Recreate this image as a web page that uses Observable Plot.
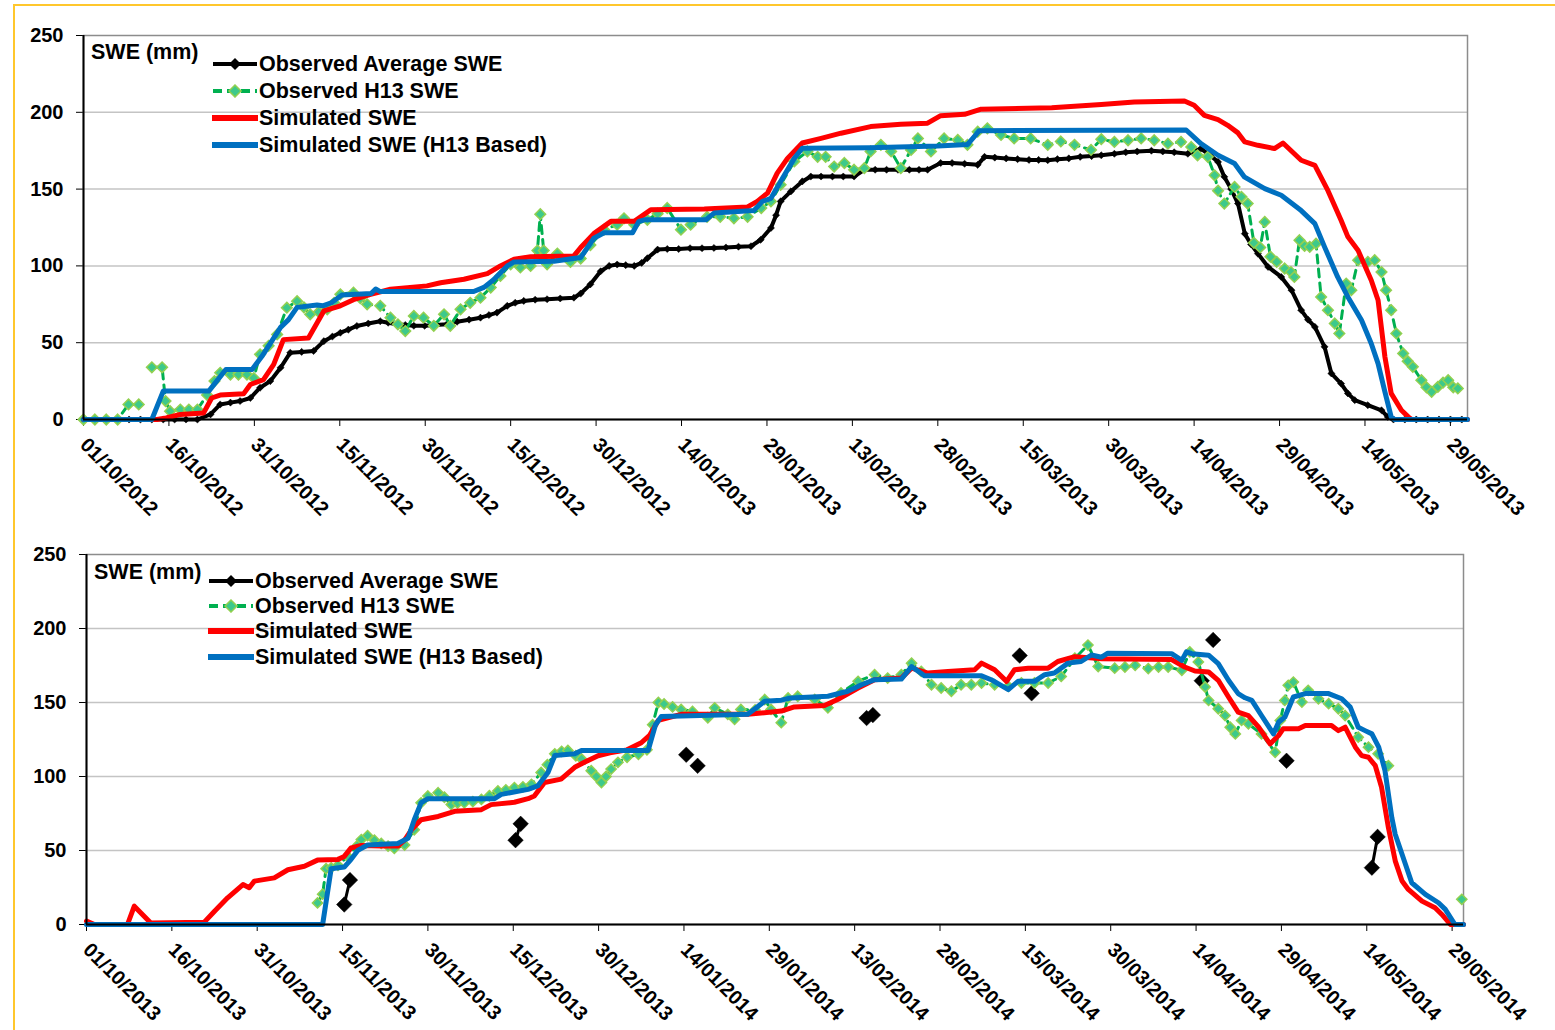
<!DOCTYPE html>
<html><head><meta charset="utf-8">
<script src="https://cdn.jsdelivr.net/npm/d3@7"></script>
<script src="https://cdn.jsdelivr.net/npm/@observablehq/plot@0.6"></script>
<style>
body{margin:0;background:#fff;width:1555px;height:1030px;overflow:hidden;font-family:"Liberation Sans",Arial,sans-serif;position:relative;}
#frame{position:absolute;left:13px;top:4px;width:1560px;height:1040px;border-top:2px solid #FFC72C;border-left:2px solid #FFC72C;}
.panel{position:absolute;left:0;}
.lab{position:absolute;font-weight:bold;font-size:21.5px;color:#000;white-space:nowrap;line-height:24px;}
.sw{position:absolute;}
</style></head><body>
<div id="frame"></div>
<div id="top" class="panel" style="top:0px"></div>
<div id="bot" class="panel" style="top:520px"></div>
<script>
// ---------------- DATA ----------------
const seriesNames = ["Observed Average SWE", "Observed H13 SWE", "Simulated SWE", "Simulated SWE (H13 Based)"];
const yTicks = [0, 50, 100, 150, 200, 250];
const tickDays = [0,15,30,45,60,75,90,105,120,135,150,165,180,195,210,225,240];
const topSeasonStart = "2012-10-01";
const botSeasonStart = "2013-10-01";
const topSeasonDays = 243;
const botSeasonDays = 242;

// ---- Season 2012/13 (day offset from 01/10/2012) ----
const topBlackDays = [0,2,4,6,8,10,12,14,16,18,20,22.3,24,25.8,27.5,29.3,31,32.8,34.6,36.3,38.3,40.4,42.2,43.7,45.1,46.5,48,50,52.1,53.5,55,56.5,58,59.9,61.8,63.8,65.6,67.7,69.7,71.2,72.6,74.4,75.8,77.3,79.3,81.4,83.7,86.1,87.3,89,90.8,92.3,93.7,95.2,96.7,98,99,100.8,102.5,104.5,106.5,108.6,110.7,112.8,115,117.2,118.9,120.7,121.6,122.4,124.2,126.2,127.7,129.5,131.5,133.4,135.3,137.1,139,141,143,145,146.7,148.2,150.5,152.5,154.7,157,158.2,160,162,164,166,167.7,169.3,171,173,175,177,178.7,181,183,185,187.5,189.5,191.5,193.9,196.2,197.8,199.2,200.3,201.5,202.7,203.9,205,206.2,208,210.3,212.1,213.8,215,216.2,217.9,219.1,220.8,222,223.2,225.5,227.9,229,230,232,234,236,238,240,242];
const topBlackSWE = [0,0,0,0,0,0,0,0,0,0,0,3.3,9.8,11,12,14,20.7,25,33.7,43.5,44,44.6,51,54,56.5,58.5,60.9,62.5,64,63,62,61.5,61,61,61.5,62,63.7,65,66.3,68,69.6,74,76,77.2,78,78.3,78.8,79.3,82,88,96.5,100,100.9,100.5,100,102,105,110.6,111,111,111.5,111.5,111.7,112,112.5,112.8,117,124.7,133,142,148.5,155,158.2,158.2,158.2,158.2,158.2,162.6,162.6,162.6,162.6,162.6,162.6,162.6,167,167,166.5,165.8,171,170.5,170,169.5,169,169,168.8,169.5,170,171,171.5,172,173,174,174.5,175,174.5,174,173,176.4,172,167.7,158,150,140.6,121,114,108,99.3,92.8,84.2,71.2,65,60.3,47.3,30,23.4,17,12.6,9.3,6,1.7,0,0,0,0,0,0,0];

const topGreenDays = [0,2,4,6,7.9,9.7,11,12,13.8,14.4,15.2,17,18.5,20,21.7,23,24,25.8,27.2,28.7,29.9,31,32.5,34,35.7,37.5,38.7,39.8,41.3,42.8,44,45.1,47.4,48.6,49.8,52.1,53.9,55.2,56.5,58,59.7,61.5,63.3,64.4,66.2,67.9,69.7,71.5,73.2,75,76.7,78.5,79.7,80.2,80.8,81.4,83.2,85.5,87.3,89,91.4,93.7,94.9,96.7,99,100.8,102.5,104.9,106.6,109.5,111.8,114.2,116.6,119,120.7,122.4,124.8,127.1,128.9,130.3,131.8,133.6,135.3,137.1,138.2,140,141.8,143.5,145.3,146.5,148.8,151.1,153.5,155.2,157,158.7,161.1,163.4,166.3,169.3,171.6,174,176.9,178.7,181,183.4,185.7,188,190.4,192.7,194.5,195.6,197.4,198.6,199.2,200.3,202.1,203.3,204.4,205.5,206.6,207.4,208.4,209.5,210.9,212,212.6,213.5,214.4,215.3,216.4,217.3,218.5,219.7,220.5,221.7,222.6,223.8,225.5,226.7,227.9,228.7,229.6,230.5,231.7,232.5,233.4,234.9,235.8,236.7,237.8,238.7,239.6,240.5,241.3];
const topGreenSWE = [0,0,0,0,9.8,9.8,null,34,34,12,5.4,6.5,6.5,6.5,16,25,30.4,29.3,29.3,29.3,27,42.4,48,55.4,72.8,77,73,68.5,70,71.7,76,81.5,82.6,79,75,74,66.3,62,57.6,67.4,66.3,61,68.5,61,71.7,76,79.3,85.9,93.5,101,99,100,110,133.7,110,101,108,102.6,104.8,113.6,123.6,126.8,131,126.8,130,134,137.7,123.6,126.8,132,132,131,132,137.7,142,152.8,168,174.5,171,171,164.7,167,162.6,163.6,174.5,178.8,174.5,163.6,175.5,183,174.5,183,182,178.8,187.4,189.6,185.3,183,183,178.8,181,178.8,175.5,182.5,180.7,181.8,183,181.8,179.6,180.7,177.4,172,171,159,149,140.6,151.4,145,140.6,115,112,128.6,106,102.6,98.3,96,92.8,116.7,113,112.4,114.5,79.8,71.2,62.5,56,88.5,84.2,103.7,102.6,103.7,96,84.2,71.2,56,43,38,34.3,25.6,21,18,21.3,24,25.6,21,20.2];

const topRedDays = [0,12.9,14.5,17,21.1,22.5,24,28.1,29.3,31.6,33.4,35.1,39.5,42.2,45.1,47.4,50.4,53.9,60.3,62.7,66.8,70.9,73.2,75.6,78.5,86.1,87.3,89.6,92.6,96.7,99.6,109,116.6,118.3,120.1,121.8,123.6,126.2,129.5,133,138.2,143.5,148.2,150.5,154.7,157.6,170,178.7,184.5,193.3,195,196.8,199.2,200.9,202.7,203.9,206.2,209.1,210.6,213.8,216.2,218.5,220.8,222,223.8,226.1,227.3,228.5,229.6,231.4,232.6,233.2,243];
const topRedSWE = [0,0,1,3.3,4.3,14,15.9,16.7,22.8,26,35.9,52,53,70.7,74,78,81.5,84.8,87,89,91.3,95,100,104.3,105.9,106.5,112,121,129,129,136.6,137,138.4,142,147.4,160.4,170,180,183,186.4,190.7,192.2,192.9,197.8,198.7,202,203,205,206.7,207.4,204.6,198,195.2,191.5,186.6,180.7,178.5,176.4,180,168.8,165.5,149,129.7,118.9,110,90.7,77.6,40.8,17,6,1.7,0,0];

const topBlueDays = [0,12,14,22,25,29.6,31.3,34.6,36,37.5,41,42,43.5,45.4,50.5,51.3,52.1,68.5,70.3,72,74.4,75.6,82.6,87.3,89.6,91.4,96.4,97.5,98.5,109.3,110.7,117.7,119.2,120.7,122.4,124.8,126.2,138,150,155.2,157.3,193.6,196.2,199.2,202.1,203.8,207.4,210.3,213.8,216.2,217.9,220.2,222,224.4,226.1,227.3,228.5,229.6,230.2,243];
const topBlueSWE = [0,0,18.5,18.5,32.6,32.6,41,60,65,73,74.5,74,76,81,82,85,83.3,83.3,86,91,100,102.6,103,105.5,118,121.6,121.6,129,130,130,134.4,136,142,144,155,170,176.6,177,178,179,188,188.5,179.6,172,166.6,158,150.3,146,136,127.5,112.4,92.8,79.8,64.6,49.5,36.4,18,1.7,0,0];

// ---- Season 2013/14 (day offset from 01/10/2013) ----
const botBlackDays = [45.3,46.3,75.4,76.3,105.4,107.4,137.1,138.2,164,166.1,196,198,210.9,225.9,226.9];
const botBlackSWE = [13.5,30,57,68,114.7,107.2,139.5,141.5,181.7,156.2,164.7,192.3,110.6,38.4,59.2];

const botGreenDays = [40.6,41.5,42.1,43,44.2,45.9,47.7,48.3,49.4,50.6,51.8,53,54.1,55.9,57.6,58.8,60,61.8,62.9,64.1,65.2,66.4,67.9,69.4,70.8,72.3,73.7,75.2,76.7,78.2,79.9,81,82.3,83.5,84.6,86,87,88.7,89.6,90.5,91.3,92.2,93.4,95,97,98.5,99.5,100.5,101.5,103,104.5,106.5,109.2,110.4,112.7,113.9,115,117.5,119.2,120.3,122.1,123.3,125,128,130.3,132.6,135.6,138.5,140.8,143.2,145,146.7,148.5,150.2,152,153.7,155.5,157.3,159.6,162,164.3,166.6,169,171.3,173.7,176,177.8,180.7,182.5,184.3,186.6,188.4,190.1,192.5,193.9,195.4,196.6,197.2,198.9,200.1,201,201.9,203,204.2,206.5,208.9,209.8,210.6,211.2,212.1,213.6,214.7,216.5,218.3,220,221.2,223.5,225.3,227,228.8,235,241.7];
const botGreenSWE = [14.6,20.5,37.7,38.3,40,46,53.7,57.4,60,57,54.8,53,51.4,53.7,64,82.2,86.8,89,86,81,82,82.2,83,84.5,87,90.2,91,92.5,93,94.7,102.7,108,115.3,117,117.6,114,111.9,103.9,100,95.9,100,105,109.6,113,115,118,135,150,149,147,145.3,144,139.7,146.4,142,138.6,145.3,145,152,145.3,136.4,153.1,154.2,152,146.4,156.5,164.3,168.8,166.5,168.8,176.6,171,162,159.8,157.6,162,162,163.2,162,160.9,163.2,163.2,163.2,167.6,179.9,188.8,174.3,173.2,174,175.1,172.9,174,174,171.8,184.2,177.4,160.5,151.4,145.8,141.2,133.3,128.8,137.9,135.6,128.8,116.4,137.9,151.4,161.6,163.8,150.3,158.2,152.5,149.2,145.8,141.2,126.6,119.8,115.3,107.3,null,17];

const botRedDays = [0,1.4,7.2,8.4,11.3,20.7,22.5,24.8,27.5,28.6,29.5,33,35.4,38.3,40.6,44.2,45.3,46.5,48.3,51.8,54.7,55.9,57.1,58.8,61.8,64.7,69.4,71.1,75.2,77.6,78.7,80.5,83.4,85.8,87.5,89.9,92,95,97.5,99,100.5,104.5,116.2,122.1,124.4,129.7,132,135.6,138.5,143.2,145,147.9,151.4,156.1,157.3,159.6,161.7,163.1,165.5,169,170.7,173.7,178.4,190.7,193,194.8,197.2,198.9,200.7,202.4,204.2,206,208,209.5,210.3,213,214.2,218.8,220,221.2,223,224.1,225.3,226.5,227.6,228.8,230,231.2,232.3,234.7,237,238.2,239.7,242];
const botRedSWE = [2.3,0,0,12.4,1,1.6,9,18,27,24.8,29.3,31.5,37,39.4,43.5,44,46,51.8,53.4,53,53,57,64,70.8,73,76.5,77.6,81,82.6,85,86.8,95.9,98.2,106.2,109.6,114,116,118,122.8,128,138,142,142,144.2,147,148,152,159.8,165.4,166.5,173.2,169.9,171,172.1,176.6,172.1,164.3,172.1,173.2,173.2,177.7,181,179.5,179,174,171.3,170.6,165,153.7,143.5,141.2,133.3,122,127.7,132.2,132.2,134.5,134.5,131,133.3,119.8,114.1,113,107.3,92.7,65.5,43,29.4,23.7,15.8,11.3,6.8,0,0];

const botBlueDays = [0,41.5,43,45.3,46.5,47.7,49.4,54.7,56.5,57.6,58.8,60,71.7,72.9,77.6,79.3,81.1,82.3,85.8,87,98.7,100,101,104.5,116.2,119.2,122.1,123.8,130.3,133.8,136.2,138.5,143.2,145,147.3,157.3,159,162,163.7,166.6,168.4,170.1,172.5,174.8,176.6,178.4,179.5,190.7,192.5,193.3,194.2,197.2,198.9,200.7,202.4,203.6,204.8,206.5,208.6,209.5,210.6,212.1,214.2,218.3,220.6,222.1,223.5,224.7,225.9,227.1,228.2,229.4,230,231.2,232.9,235.3,237.6,238.8,240.5,242];
const botBlueSWE = [0,0,37.7,38.8,44,50.2,53.7,54.8,58.2,70.8,82.2,85,85,87.9,91.3,93.6,102.7,114.2,115.3,117.6,117.6,135,140.5,140.8,142,150.9,151.6,153.1,154.2,157.6,162,165.4,165.8,174.3,168,168,165.4,158.7,164.3,164.3,168.8,169.9,176.6,177.7,182.1,180.6,183.3,183,178.5,184.2,183,182,176.3,165,156,153.2,151.4,141.2,128.8,136.7,140.1,153.7,156,156,152.5,146.9,133.3,131,128.8,119.8,104,72.3,61,47.5,28.2,20.3,14.7,10.2,0,0];

// ---------------- STYLE ----------------
const C = {black:"#000000", green:"#00B050", greenFill:"#3DC98B", greenEdge:"#92D050", red:"#FF0000", blue:"#0070C0", grid:"#c4c4c4", frame:"#8c8c8c"};
const FONT = '"Liberation Sans", Arial, sans-serif';
const DAY = 864e5;

function rows(start, days, vals) {
  const t0 = Date.parse(start + "T00:00:00Z");
  return days.map((d, i) => ({date: new Date(t0 + d * DAY), v: vals[i] == null ? NaN : vals[i]}));
}

function panel(o) {
  const t0 = Date.parse(o.start + "T00:00:00Z");
  const x0 = new Date(t0), x1 = new Date(t0 + o.len * DAY);
  const ticks = tickDays.map(d => new Date(t0 + d * DAY));
  const black = rows(o.start, o.blackDays, o.blackSWE);
  const green = rows(o.start, o.greenDays, o.greenSWE);
  const red = rows(o.start, o.redDays, o.redSWE);
  const blue = rows(o.start, o.blueDays, o.blueSWE);
  // split the black observation line where observations are not on consecutive days
  let g = 0;
  black.forEach((r, i) => { if (i > 0 && (o.blackDays[i] - o.blackDays[i-1]) > o.maxGap) g++; r.g = g; });
  return Plot.plot({
    width: 1555, height: o.height,
    marginLeft: o.ml, marginRight: o.mr, marginTop: o.mt, marginBottom: o.mb,
    style: {fontFamily: FONT, fontSize: "20px", fontWeight: "bold", color: "#000", background: "transparent", overflow: "visible"},
    x: {type: "utc", domain: [x0, x1], ticks, tickFormat: d3.utcFormat("%d/%m/%Y"), tickRotate: 45, tickSize: 7, tickPadding: 15, label: null},
    y: {domain: [0, 250], ticks: yTicks, tickSize: 7, tickPadding: 13, label: null},
    marks: [
      Plot.ruleY(yTicks.slice(1, -1), {stroke: C.grid, strokeWidth: 1.5}),
      Plot.frame({stroke: C.frame, strokeWidth: 1.5}),
      Plot.line(black, {x: "date", y: "v", z: "g", stroke: C.black, strokeWidth: o.blackLineW, strokeLinejoin: "round"}),
      Plot.dot(black, {x: "date", y: "v", symbol: "diamond2", r: o.blackR, fill: C.black, stroke: C.black, strokeWidth: 0.5}),
      Plot.line(green, {x: "date", y: "v", stroke: C.green, strokeWidth: 3, strokeDasharray: "8,6"}),
      Plot.dot(green, {x: "date", y: "v", symbol: "diamond2", r: o.greenR, fill: C.greenFill, stroke: C.greenEdge, strokeWidth: 1.5}),
      Plot.line(red, {x: "date", y: "v", stroke: C.red, strokeWidth: 5, strokeLinejoin: "round"}),
      Plot.line(blue, {x: "date", y: "v", stroke: C.blue, strokeWidth: 5, strokeLinejoin: "round"}),
      Plot.ruleX([x0], {stroke: "#000", strokeWidth: 2}),
      Plot.ruleY([0], {stroke: "#000", strokeWidth: 2})
    ]
  });
}

document.getElementById("top").append(panel({
  start: topSeasonStart, len: topSeasonDays, height: 530, ml: 83, mr: 88, mt: 35, mb: 111,
  blackDays: topBlackDays, blackSWE: topBlackSWE, greenDays: topGreenDays, greenSWE: topGreenSWE,
  redDays: topRedDays, redSWE: topRedSWE, blueDays: topBlueDays, blueSWE: topBlueSWE,
  blackR: 3.2, blackLineW: 4, greenR: 4.8, maxGap: Infinity
}));
document.getElementById("bot").append(panel({
  start: botSeasonStart, len: botSeasonDays, height: 510, ml: 86, mr: 92, mt: 34, mb: 106,
  blackDays: botBlackDays, blackSWE: botBlackSWE, greenDays: botGreenDays, greenSWE: botGreenSWE,
  redDays: botRedDays, redSWE: botRedSWE, blueDays: botBlueDays, blueSWE: botBlueSWE,
  blackR: 7, blackLineW: 3, greenR: 4.6, maxGap: 1.3
}));

// ---------------- LEGENDS (HTML overlay) ----------------
function swatch(kind) {
  const ns = "http://www.w3.org/2000/svg";
  const s = document.createElementNS(ns, "svg");
  s.setAttribute("width", 46); s.setAttribute("height", 14);
  let html = "";
  if (kind === 0) html = `<line x1="1" y1="7" x2="45" y2="7" stroke="${C.black}" stroke-width="4"/><path d="M23 1L29 7L23 13L17 7Z" fill="#000"/>`;
  if (kind === 1) html = `<line x1="1" y1="7" x2="45" y2="7" stroke="${C.green}" stroke-width="4" stroke-dasharray="9,5"/><path d="M23 1L29 7L23 13L17 7Z" fill="${C.greenFill}" stroke="${C.greenEdge}" stroke-width="1.5"/>`;
  if (kind === 2) html = `<line x1="1" y1="7" x2="45" y2="7" stroke="${C.red}" stroke-width="6" stroke-linecap="round"/>`;
  if (kind === 3) html = `<line x1="1" y1="7" x2="45" y2="7" stroke="${C.blue}" stroke-width="6" stroke-linecap="round"/>`;
  s.innerHTML = html;
  return s;
}
function legend(yLabel, xLabel, rowsY, xSw, xText) {
  const b = document.body;
  const u = document.createElement("div");
  u.className = "lab"; u.textContent = "SWE (mm)";
  u.style.left = xLabel + "px"; u.style.top = (yLabel - 12) + "px";
  b.append(u);
  seriesNames.forEach((n, i) => {
    const sw = swatch(i); sw.classList.add("sw");
    sw.style.left = xSw + "px"; sw.style.top = (rowsY[i] - 7) + "px";
    b.append(sw);
    const t = document.createElement("div");
    t.className = "lab"; t.textContent = n;
    t.style.left = xText + "px"; t.style.top = (rowsY[i] - 12) + "px";
    b.append(t);
  });
}
legend(52, 91, [64, 91, 118, 145], 212, 259);
legend(572, 94, [581, 606, 631, 657], 208, 255);
</script>
</body></html>
